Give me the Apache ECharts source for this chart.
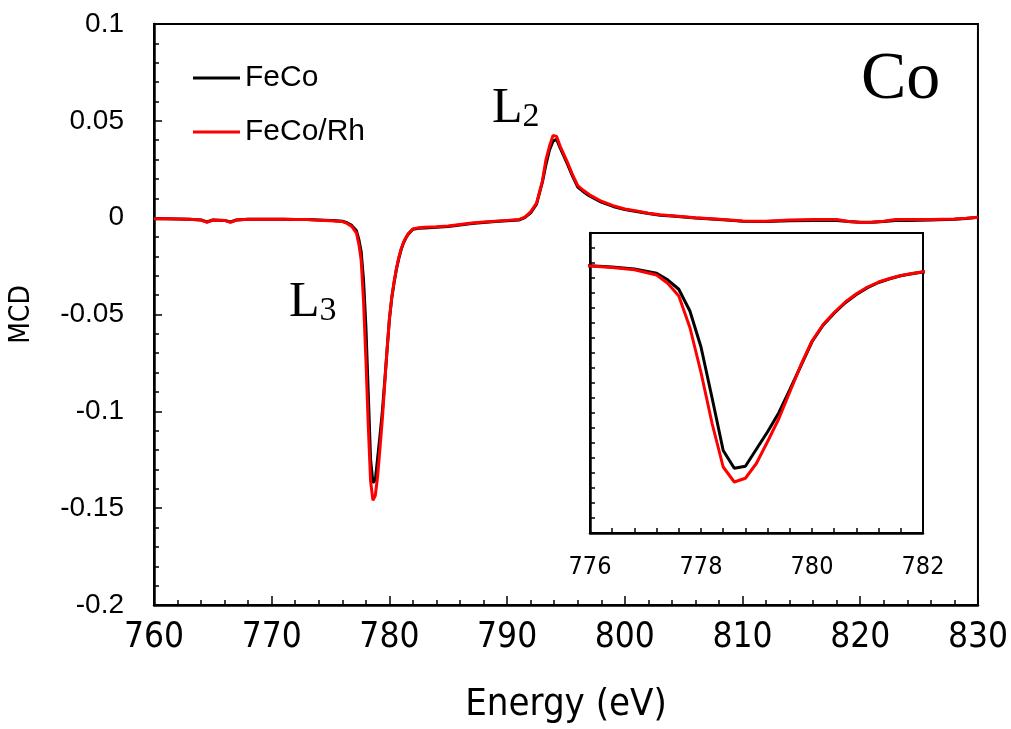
<!DOCTYPE html>
<html>
<head>
<meta charset="utf-8">
<script src="https://cdn.jsdelivr.net/npm/echarts@6/dist/echarts.min.js"></script>
<style>
html, body { margin: 0; padding: 0; background: #fff; }
#chart1 { width: 1011px; height: 729px; }
</style>
</head>
<body>
<div id="chart1"></div>
<script>
// Co L-edge MCD, FeCo vs FeCo/Rh
var energy = [
	760, 761, 762, 763, 764, 764.5, 765, 766, 766.5, 767,
	768, 769, 770, 771, 772, 773, 774, 775, 775.5, 776,
	776.4, 776.8, 777.2, 777.4, 777.6, 777.8, 778, 778.2, 778.4, 778.6,
	778.8, 779, 779.2, 779.4, 779.6, 779.8, 780, 780.2, 780.4, 780.6,
	780.8, 781, 781.2, 781.4, 781.6, 781.8, 782, 782.5, 783, 784,
	785, 786, 787, 788, 789, 790, 791, 791.5, 792, 792.5,
	793, 793.3, 793.6, 793.9, 794.2, 794.5, 794.8, 795.1, 795.5, 796,
	796.5, 797, 798, 799, 800, 801, 802, 803, 804, 805,
	806, 807, 808, 809, 810, 812, 814, 816, 818, 819,
	820, 821, 822, 823, 824, 826, 828, 829, 830
];
var feco = [
	-0.0005, -0.0006, -0.0007, -0.0008, -0.0012, -0.0022, -0.0012, -0.0014, -0.0022, -0.0012,
	-0.0008, -0.0008, -0.0008, -0.0008, -0.0009, -0.0010, -0.0012, -0.0014, -0.0016, -0.0018,
	-0.0026, -0.0040, -0.0068, -0.0112, -0.0175, -0.0320, -0.0560, -0.0900, -0.1250, -0.1368,
	-0.1355, -0.1240, -0.1125, -0.1000, -0.0845, -0.0685, -0.0525, -0.0415, -0.0335, -0.0265,
	-0.0210, -0.0165, -0.0130, -0.0105, -0.0085, -0.0072, -0.0060, -0.0055, -0.0053, -0.0050,
	-0.0046, -0.0038, -0.0030, -0.0025, -0.0020, -0.0016, -0.0012, 0.0000, 0.0025, 0.0070,
	0.0185, 0.0275, 0.0350, 0.0395, 0.0405, 0.0360, 0.0320, 0.0280, 0.0222, 0.0158,
	0.0133, 0.0112, 0.0080, 0.0058, 0.0042, 0.0032, 0.0021, 0.0013, 0.0008, 0.0003,
	-0.0002, -0.0006, -0.0010, -0.0014, -0.0018, -0.0020, -0.0016, -0.0014, -0.0015, -0.0020,
	-0.0024, -0.0024, -0.0020, -0.0015, -0.0014, -0.0012, -0.0008, -0.0004, 0.0002
];
var fecoRh = [
	-0.0005, -0.0006, -0.0007, -0.0008, -0.0012, -0.0024, -0.0012, -0.0014, -0.0024, -0.0012,
	-0.0008, -0.0008, -0.0008, -0.0008, -0.0009, -0.0010, -0.0013, -0.0016, -0.0018, -0.0020,
	-0.0030, -0.0045, -0.0080, -0.0135, -0.0220, -0.0430, -0.0730, -0.1070, -0.1360, -0.1460,
	-0.1435, -0.1335, -0.1190, -0.1040, -0.0860, -0.0680, -0.0520, -0.0410, -0.0330, -0.0260,
	-0.0205, -0.0160, -0.0127, -0.0103, -0.0083, -0.0070, -0.0058, -0.0052, -0.0050, -0.0047,
	-0.0043, -0.0035, -0.0027, -0.0022, -0.0018, -0.0014, -0.0010, 0.0003, 0.0030, 0.0075,
	0.0190, 0.0300, 0.0370, 0.0425, 0.0420, 0.0370, 0.0330, 0.0290, 0.0230, 0.0165,
	0.0140, 0.0118, 0.0085, 0.0062, 0.0045, 0.0035, 0.0023, 0.0015, 0.0010, 0.0005,
	0.0000, -0.0004, -0.0008, -0.0012, -0.0017, -0.0018, -0.0012, -0.0009, -0.0010, -0.0020,
	-0.0025, -0.0024, -0.0018, -0.0010, -0.0009, -0.0009, -0.0007, -0.0003, 0.0002
];
var seriesNames = ['FeCo', 'FeCo/Rh'];
var mainXLabels = [760, 770, 780, 790, 800, 810, 820, 830];
var mainYLabels = [0.1, 0.05, 0, -0.05, -0.1, -0.15, -0.2];
var insetXLabels = [776, 778, 780, 782];

function pairs(ys) {
	return energy.map(function (e, i) { return [e, ys[i]]; });
}
function pick(list) {
	return function (v) {
		for (var i = 0; i < list.length; i++) {
			if (Math.abs(list[i] - v) < 1e-7) return String(list[i]);
		}
		return '';
	};
}

var myChart = echarts.init(document.getElementById('chart1'));
var black = '#000';
var red = '#ff0000';
var tickStyle = { color: black, width: 1.5 };
var narrow = '"DejaVu Sans Condensed", "Liberation Sans", sans-serif';
var sans = '"Liberation Sans", Arial, sans-serif';
var serif = '"Liberation Serif", "Times New Roman", serif';

var option = {
	backgroundColor: '#fff',
	animation: false,
	grid: [
		{ left: 149, top: 24, width: 831, height: 583, show: true, borderColor: black, borderWidth: 2, backgroundColor: 'transparent' },
		{ left: 590, top: 233, width: 333, height: 300, show: true, borderColor: black, borderWidth: 2, backgroundColor: '#fff' }
	],
	legend: {
		orient: 'vertical',
		left: 188,
		top: 58,
		icon: 'rect',
		itemWidth: 47,
		itemHeight: 3,
		itemGap: 24,
		data: seriesNames,
		textStyle: { color: black, fontSize: 30, lineHeight: 30, fontFamily: sans }
	},
	xAxis: [
		{   // main, minor ticks every 2 eV
			gridIndex: 0, type: 'value', min: 760, max: 830, interval: 2,
			axisLine: { onZero: false, lineStyle: { color: black, width: 2.5 } },
			axisTick: { inside: true, length: 5, lineStyle: tickStyle },
			axisLabel: { formatter: pick(mainXLabels), color: black, fontSize: 35, fontFamily: narrow, margin: 15 },
			splitLine: { show: false },
			name: 'Energy (eV)', nameLocation: 'middle', nameGap: 81,
			nameTextStyle: { color: black, fontSize: 38, fontFamily: narrow }
		},
		{   // main, major ticks every 10 eV
			gridIndex: 0, type: 'value', min: 760, max: 830, interval: 10, position: 'bottom',
			axisLine: { show: false, onZero: false },
			axisTick: { inside: true, length: 9, lineStyle: tickStyle },
			axisLabel: { show: false },
			splitLine: { show: false }
		},
		{   // inset
			gridIndex: 1, type: 'value', min: 776, max: 782, interval: 0.4,
			axisLine: { onZero: false, lineStyle: { color: black, width: 2.5 } },
			axisTick: { inside: true, length: 5, lineStyle: tickStyle },
			axisLabel: { formatter: pick(insetXLabels), color: black, fontSize: 25, fontFamily: narrow, margin: 22 },
			splitLine: { show: false }
		}
	],
	yAxis: [
		{
			gridIndex: 0, type: 'value', min: -0.2, max: 0.1, interval: 0.01,
			axisLine: { onZero: false, lineStyle: { color: black, width: 2.5 } },
			axisTick: { inside: true, length: 5, lineStyle: tickStyle },
			axisLabel: { formatter: pick(mainYLabels), color: black, fontSize: 28, fontFamily: sans, margin: 30 },
			splitLine: { show: false },
			name: 'MCD', nameLocation: 'middle', nameGap: 118, nameRotate: 90,
			nameTextStyle: { color: black, fontSize: 28, fontFamily: narrow }
		},
		{
			gridIndex: 0, type: 'value', min: -0.2, max: 0.1, interval: 0.05, position: 'left',
			axisLine: { show: false, onZero: false },
			axisTick: { inside: true, length: 8, lineStyle: tickStyle },
			axisLabel: { show: false },
			splitLine: { show: false }
		},
		{
			gridIndex: 1, type: 'value', min: -0.18, max: 0.02, interval: 0.01,
			axisLine: { onZero: false, lineStyle: { color: black, width: 2.5 } },
			axisTick: { inside: true, length: 5, lineStyle: tickStyle },
			axisLabel: { show: false },
			splitLine: { show: false }
		}
	],
	graphic: [
		{ type: 'text', left: 861, top: 46, style: { text: 'Co', font: '68px ' + serif, fill: black } },
		{ type: 'text', left: 492, top: 84, style: {
			text: '{a|L}{b|2}',
			rich: { a: { fontSize: 50, fontFamily: serif, color: black, verticalAlign: 'bottom' },
			        b: { fontSize: 34, fontFamily: serif, color: black, verticalAlign: 'bottom' } }
		} },
		{ type: 'text', left: 289, top: 278, style: {
			text: '{a|L}{b|3}',
			rich: { a: { fontSize: 50, fontFamily: serif, color: black, verticalAlign: 'bottom' },
			        b: { fontSize: 34, fontFamily: serif, color: black, verticalAlign: 'bottom' } }
		} }
	],
	series: [
		{ name: seriesNames[0], type: 'line', xAxisIndex: 0, yAxisIndex: 0, data: pairs(feco),
		  showSymbol: false, symbol: 'none', color: black, lineStyle: { color: black, width: 3 }, z: 2 },
		{ name: seriesNames[1], type: 'line', xAxisIndex: 0, yAxisIndex: 0, data: pairs(fecoRh),
		  showSymbol: false, symbol: 'none', color: red, lineStyle: { color: red, width: 3 }, z: 3 },
		{ name: seriesNames[0], type: 'line', xAxisIndex: 2, yAxisIndex: 2, data: pairs(feco),
		  showSymbol: false, symbol: 'none', color: black, lineStyle: { color: black, width: 3 }, z: 4 },
		{ name: seriesNames[1], type: 'line', xAxisIndex: 2, yAxisIndex: 2, data: pairs(fecoRh),
		  showSymbol: false, symbol: 'none', color: red, lineStyle: { color: red, width: 3 }, z: 5 }
	]
};
myChart.setOption(option);
</script>
</body>
</html>
